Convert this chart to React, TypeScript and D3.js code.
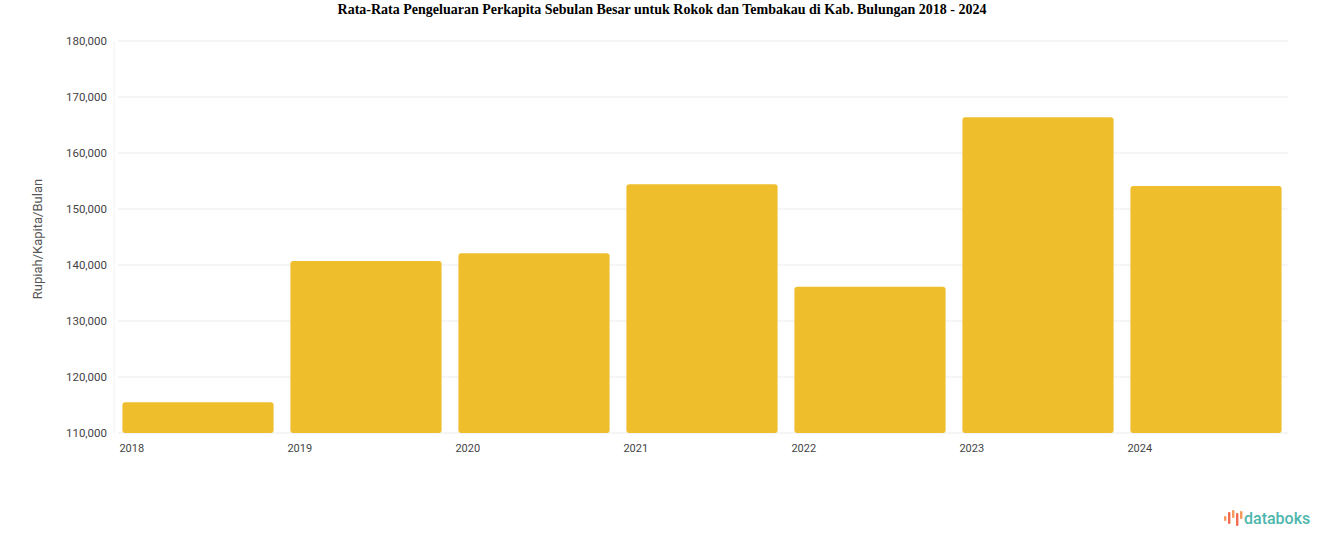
import { useMemo } from "react";
import * as d3 from "d3";

const years = ["2018", "2019", "2020", "2021", "2022", "2023", "2024"];
const spending = [115500, 140700, 142100, 154400, 136100, 166400, 154100];
const yTicks = [110000, 120000, 130000, 140000, 150000, 160000, 170000, 180000];

const WIDTH = 1324;
const HEIGHT = 547;
const PADDING = { top: 41, right: 34, bottom: 114, left: 114 };
const BAR_COLOR = "#EFBE2C";

export default function App() {
  const innerW = WIDTH - PADDING.left - PADDING.right;
  const innerH = HEIGHT - PADDING.top - PADDING.bottom;

  const xScale = useMemo(
    () =>
      d3
        .scaleBand<string>()
        .domain(years)
        .range([0, innerW])
        .paddingInner(0.1)
        .paddingOuter(0.05),
    [innerW]
  );
  const yScale = useMemo(
    () => d3.scaleLinear().domain([110000, 180000]).range([innerH, 0]),
    [innerH]
  );
  const fmt = d3.format(",");
  const bw = xScale.bandwidth();

  return (
    <svg
      width={WIDTH}
      height={HEIGHT}
      style={{ position: "absolute", left: 0, top: 0, background: "#fff" }}
      fontFamily="Roboto, 'Open Sans', sans-serif"
    >
      <text
        x={WIDTH / 2}
        y={14}
        textAnchor="middle"
        fontFamily="'Liberation Serif', 'Times New Roman', serif"
        fontWeight="bold"
        fontSize={14}
        fill="#000"
      >
        Rata-Rata Pengeluaran Perkapita Sebulan Besar untuk Rokok dan Tembakau di Kab. Bulungan 2018 - 2024
      </text>

      <g transform={`translate(${PADDING.left},${PADDING.top})`}>
        {yTicks.map((t) => (
          <g key={t} transform={`translate(0,${yScale(t)})`}>
            <line x1={4} x2={innerW - 2} stroke="#ebebeb" strokeWidth={1} />
            <text x={-7} y={4} textAnchor="end" fontSize={11.5} fill="#444">
              {fmt(t)}
            </text>
          </g>
        ))}
        <line x1={0} x2={0} y1={0} y2={innerH} stroke="#f2f2f2" />

        {years.map((yr, i) => {
          const x = xScale(yr) ?? 0;
          const y = yScale(spending[i]);
          return (
            <g key={yr}>
              <rect
                x={x}
                y={y}
                width={bw}
                height={innerH - y}
                rx={3}
                fill={BAR_COLOR}
              />
              <text x={x - 3} y={innerH + 19} fontSize={11} fill="#444">
                {yr}
              </text>
            </g>
          );
        })}
      </g>

      <text
        transform={`translate(42,239) rotate(-90)`}
        textAnchor="middle"
        fontSize={13}
        fill="#555"
      >
        Rupiah/Kapita/Bulan
      </text>

      <g transform="translate(1224,510)">
        {[
          [0, 6, 5],
          [4, 2, 12],
          [8, 0, 8],
          [12, 3, 13],
          [16, 1, 8],
        ].map(([x, y, h], i) => (
          <rect key={i} x={x} y={y} width={2.4} height={h} rx={1} fill={i % 2 ? "#F26B4F" : "#F59A5B"} />
        ))}
        <text x={20} y={14} fontSize={16} fontWeight={500} fill="#4DB6AC">
          databoks
        </text>
      </g>
    </svg>
  );
}
